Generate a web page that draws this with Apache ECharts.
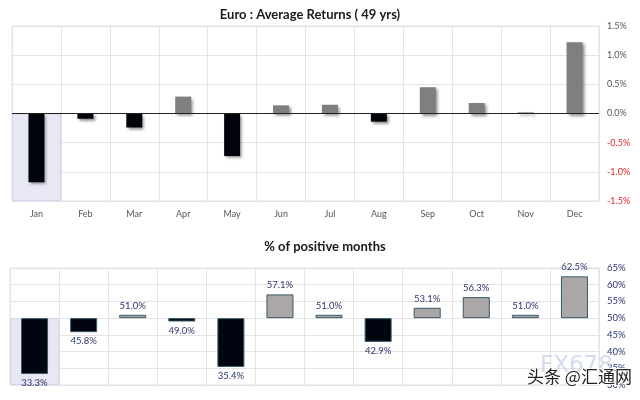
<!DOCTYPE html>
<html><head><meta charset="utf-8">
<script src="https://cdn.jsdelivr.net/npm/echarts@6/dist/echarts.min.js"></script>
<style>html,body{margin:0;padding:0;background:#fff}#c{width:640px;height:400px}</style>
</head><body><div id="c"></div>
<script>
var months = ['Jan','Feb','Mar','Apr','May','Jun','Jul','Aug','Sep','Oct','Nov','Dec'];
var avgReturns = [-1.18,-0.09,-0.24,0.29,-0.73,0.14,0.15,-0.14,0.45,0.18,0.02,1.22];
var positivePct = [33.3,45.8,51.0,49.0,35.4,57.1,51.0,42.9,53.1,56.3,51.0,62.5];
var topTicks = {min:-1.5,max:1.5,interval:0.5};
var bottomTicks = {min:30,max:65,interval:5,base:50};
var highlightMonth = 'Jan';

var gridLine = {show:true,lineStyle:{color:'#e3e3e3',width:1}};
var font = 'Lato, "Open Sans", sans-serif';
var hlTop = months.map(function(m){return m===highlightMonth?topTicks.min:'-';});
var hlBot = months.map(function(m){return m===highlightMonth?bottomTicks.min-bottomTicks.base:'-';});

var chart = echarts.init(document.getElementById('c'),null,{renderer:'canvas'});
chart.setOption({
  animation:false,
  backgroundColor:'#fff',
  title:[
    {text:'Euro : Average Returns ( 49 yrs)',left:305,textAlign:'center',top:3,textStyle:{fontFamily:font,fontSize:13,fontWeight:'bold',color:'#1a1a1a'}},
    {text:'% of positive months',left:320,textAlign:'center',top:235,textStyle:{fontFamily:font,fontSize:13,fontWeight:'bold',color:'#1a1a1a'}}
  ],
  grid:[
    {left:12,right:41,top:26,height:175,show:true,borderColor:'#e0e0e0',borderWidth:1},
    {left:10,right:41,top:268,height:117,show:true,borderColor:'#e0e0e0',borderWidth:1}
  ],
  xAxis:[
    {type:'category',data:months,gridIndex:0,axisLine:{show:false},axisTick:{show:false},splitLine:gridLine,
     axisLabel:{color:'#555',fontSize:9,fontFamily:font,margin:9}},
    {type:'category',data:months,gridIndex:1,axisLine:{show:false},axisTick:{show:false},splitLine:gridLine,axisLabel:{show:false}},
    {type:'category',data:months,gridIndex:0,show:false},
    {type:'category',data:months,gridIndex:1,show:false}
  ],
  yAxis:[
    {type:'value',gridIndex:0,position:'right',min:topTicks.min,max:topTicks.max,interval:topTicks.interval,
     axisLine:{show:false},axisTick:{show:false},splitLine:gridLine,
     axisLabel:{fontSize:9,fontFamily:font,margin:8,
       formatter:function(v){return v<0?'{n|'+v.toFixed(1)+'%}':'{p|'+v.toFixed(1)+'%}';},
       rich:{n:{color:'#e8262a',fontSize:9,fontFamily:font},p:{color:'#555',fontSize:9,fontFamily:font}}}},
    {type:'value',gridIndex:1,position:'right',min:bottomTicks.min-bottomTicks.base,max:bottomTicks.max-bottomTicks.base,interval:bottomTicks.interval,
     axisLine:{show:false},axisTick:{show:false},splitLine:gridLine,
     axisLabel:{color:'#2a3670',fontSize:9.5,fontFamily:font,margin:8,formatter:function(v){return (v+bottomTicks.base)+'%';}}},
    {type:'value',gridIndex:0,min:topTicks.min,max:topTicks.max,show:false},
    {type:'value',gridIndex:1,min:bottomTicks.min-bottomTicks.base,max:bottomTicks.max-bottomTicks.base,show:false}
  ],
  series:[
    {type:'bar',xAxisIndex:2,yAxisIndex:2,data:hlTop,barWidth:'100%',silent:true,z:0,
     itemStyle:{color:'#e8e8f5',borderColor:'#d4d4ea',borderWidth:1}},
    {type:'bar',xAxisIndex:3,yAxisIndex:3,data:hlBot,barWidth:'100%',silent:true,z:0,
     itemStyle:{color:'#e8e8f5',borderColor:'#d4d4ea',borderWidth:1}},
    {type:'bar',xAxisIndex:0,yAxisIndex:0,barWidth:16,z:3,
     data:avgReturns.map(function(v){return {value:v,itemStyle:{color:v<0?'#02040c':'#7f7f7f'}};}),
     itemStyle:{shadowBlur:3,shadowOffsetX:2,shadowOffsetY:2,shadowColor:'rgba(0,0,0,0.45)'},
     markLine:{silent:true,symbol:'none',label:{show:false},lineStyle:{color:'#222',width:1,type:'solid'},data:[{yAxis:0}]}},
    {type:'bar',xAxisIndex:1,yAxisIndex:1,barWidth:27,z:3,
     data:positivePct.map(function(v){var d=+(v-bottomTicks.base).toFixed(2);return {value:d,
       itemStyle:{color:d<0?'#000510':'#aba7a7'},
       label:{position:d<0?'bottom':'top'}};}),
     itemStyle:{borderColor:'#35596a',borderWidth:1},
     label:{show:true,color:'#2a3670',fontSize:9.5,fontFamily:font,distance:4,
       formatter:function(p){return positivePct[p.dataIndex].toFixed(1)+'%';}}}
  ],
  graphic:[
    {type:'text',left:540,top:355,z:10,style:{text:'FX678',fontSize:23,fontFamily:'DejaVu Sans',fill:'rgba(195,210,235,0.75)'}},
    {type:'text',left:526,top:367,z:11,style:{text:'头条 @汇通网',fontSize:17,fontFamily:'"Noto Sans CJK SC"',fill:'#222',stroke:'#fff',lineWidth:2}}
  ]
});
</script></body></html>
